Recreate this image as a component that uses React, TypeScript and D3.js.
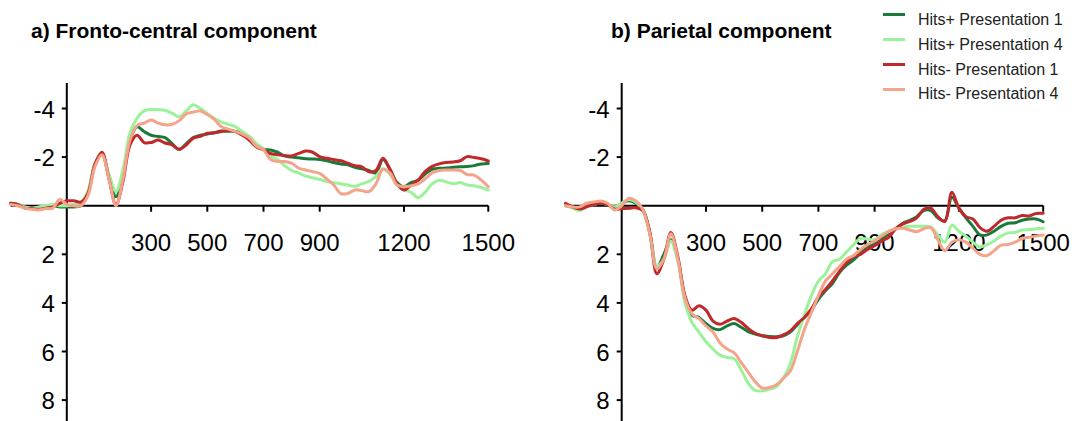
import React from "react";
import * as d3 from "d3";

// Sampling grid (ms) shared by every waveform, 25 ms steps
const TIMES: number[] = d3.range(-200, 1501, 25);

// Fronto-central component (µV, negative plotted upwards)
const FC_HITSP_P1 = [
  -0.1, -0.05, 0.05, 0.1, 0.1, 0.05, 0.0, 0.05,
  0.05, 0.05, 0.0, -0.5, -1.7, -2.15, -1.2, -0.37,
  -1.3, -2.7, -3.25, -3.05, -2.9, -2.85, -2.8, -2.55,
  -2.32, -2.55, -2.8, -2.9, -2.95, -3.0, -3.07, -3.06,
  -3.05, -2.95, -2.7, -2.45, -2.33, -2.29, -2.2, -2.05,
  -2.0, -1.97, -1.93, -1.92, -1.9, -1.85, -1.78, -1.72,
  -1.68, -1.58, -1.52, -1.45, -1.35, -1.9, -1.5, -0.95,
  -0.78, -0.95, -1.05, -1.3, -1.5, -1.54, -1.55, -1.58,
  -1.6, -1.61, -1.65, -1.72, -1.74,
];
const FC_HITSP_P4 = [
  -0.1, -0.05, 0.05, 0.1, 0.05, 0.0, -0.05, 0.0,
  0.0, -0.05, -0.15, -0.6, -1.7, -2.1, -1.3, -0.58,
  -1.5, -3.0, -3.6, -3.9, -3.96, -3.95, -3.93, -3.8,
  -3.66, -3.9, -4.15, -4.0, -3.8, -3.6, -3.45, -3.35,
  -3.25, -3.05, -2.85, -2.55, -2.35, -2.05, -1.9, -1.65,
  -1.45, -1.35, -1.22, -1.15, -1.08, -1.0, -0.95, -0.9,
  -0.85, -0.8, -0.9, -1.0, -1.2, -1.52, -1.3, -0.85,
  -0.65, -0.55, -0.33, -0.55, -0.9, -1.05, -0.98, -0.9,
  -0.95, -0.85, -0.82, -0.75, -0.65,
];
const FC_HITSM_P1 = [
  -0.1, -0.05, 0.1, 0.12, 0.15, 0.1, 0.05, -0.1,
  -0.2, -0.2, -0.15, -0.5, -1.7, -2.2, -1.1, -0.03,
  -1.0, -2.5, -2.9, -2.6, -2.6, -2.7, -2.58, -2.5,
  -2.32, -2.5, -2.78, -2.85, -2.98, -3.0, -3.05, -3.1,
  -3.05, -2.9, -2.7, -2.42, -2.3, -2.15, -2.1, -2.06,
  -2.05, -2.15, -2.25, -2.2, -2.02, -1.95, -1.9, -1.85,
  -1.75, -1.65, -1.6, -1.4, -1.45, -1.95, -1.5, -0.9,
  -0.65, -0.85, -1.05, -1.4, -1.62, -1.72, -1.78, -1.8,
  -1.85, -2.02, -1.98, -1.93, -1.84,
];
const FC_HITSM_P4 = [
  -0.05, 0.0, 0.1, 0.15, 0.18, 0.12, 0.1, -0.27,
  -0.05, 0.0, 0.0, -0.4, -1.6, -2.1, -1.1, 0.0,
  -1.1, -2.7, -3.3, -3.4, -3.53, -3.4, -3.33, -3.35,
  -3.5, -3.78, -3.85, -3.9, -3.75, -3.55, -3.25, -3.15,
  -3.05, -2.95, -2.78, -2.45, -2.3, -1.9, -1.82, -1.82,
  -1.75, -1.55, -1.47, -1.4, -1.33, -1.1, -0.85, -0.5,
  -0.5, -0.65, -0.62, -0.58, -0.9, -1.5, -1.35, -0.85,
  -0.78, -0.82, -0.9, -1.1, -1.35, -1.45, -1.47, -1.47,
  -1.45, -1.28, -1.26, -1.05, -0.78,
];

// Parietal component (µV, positive plotted downwards)
const PA_HITSP_P1 = [
  0.0, 0.05, 0.1, 0.0, -0.05, -0.1, -0.05, 0.05,
  -0.1, -0.2, -0.1, 0.15, 1.1, 2.55, 2.0, 1.4,
  2.2, 3.8, 4.5, 4.6, 4.85, 5.05, 5.1, 4.95,
  4.85, 5.0, 5.18, 5.28, 5.35, 5.38, 5.39, 5.35,
  5.2, 4.9, 4.6, 4.3, 3.85, 3.5, 3.2, 2.75,
  2.45, 2.23, 1.95, 1.7, 1.55, 1.35, 1.15, 0.95,
  0.73, 0.6, 0.45, 0.2, 0.2, 0.5, 0.62, -0.35,
  0.1, 0.5, 0.85, 1.2, 1.2, 1.05, 0.85, 0.72,
  0.7, 0.6, 0.55, 0.55, 0.66,
];
const PA_HITSP_P4 = [
  0.0, 0.1, 0.2, 0.05, -0.05, -0.1, -0.05, 0.05,
  -0.1, -0.25, -0.15, 0.2, 1.2, 2.5, 2.2, 1.45,
  2.3, 4.0, 4.8, 5.2, 5.6, 5.9, 6.15, 6.25,
  6.3, 6.75, 7.3, 7.6, 7.62, 7.55, 7.45, 7.1,
  6.5, 5.4, 4.5, 3.7, 3.1, 2.8, 2.3, 2.2,
  1.9, 1.6, 1.35, 1.38, 1.4, 1.2, 1.05, 0.95,
  0.88, 0.85, 0.85, 0.85, 0.88, 1.2, 1.5, 0.8,
  1.05, 1.25, 1.5, 1.7, 1.6, 1.45, 1.25, 1.12,
  1.1, 1.0, 0.98, 0.95, 0.93,
];
const PA_HITSM_P1 = [
  -0.1, 0.05, 0.14, 0.05, -0.05, -0.1, -0.05, 0.14,
  0.12, 0.11, 0.08, 0.2, 1.1, 2.8, 2.2, 1.1,
  2.1, 3.7, 4.3, 4.12, 4.3, 4.75, 4.88, 4.75,
  4.64, 4.8, 5.05, 5.25, 5.35, 5.42, 5.43, 5.32,
  5.15, 4.85, 4.6, 4.25, 3.75, 3.45, 3.1, 2.7,
  2.35, 2.1, 2.0, 1.8, 1.65, 1.45, 1.3, 0.95,
  0.75, 0.65, 0.5, 0.15, 0.1, 0.45, 0.65, -0.55,
  0.1, 0.45, 0.55, 0.9, 1.05, 0.85, 0.6, 0.5,
  0.5, 0.4, 0.42, 0.32, 0.31,
];
const PA_HITSM_P4 = [
  0.0, 0.05, 0.05, -0.1, -0.15, -0.19, -0.1, 0.18,
  0.0, -0.3, -0.2, 0.15, 1.15, 2.6, 2.2, 1.15,
  2.2, 3.8, 4.45, 4.65, 4.95, 5.2, 5.65, 5.9,
  6.05, 6.45, 6.85, 7.24, 7.5, 7.48, 7.38, 7.1,
  6.8, 6.0, 5.1, 4.4, 3.7, 3.1, 2.8, 2.5,
  2.2, 2.05, 1.8, 1.6, 1.45, 1.25, 1.07, 0.95,
  0.93, 1.0, 1.07, 0.95, 0.9, 1.4, 1.85, 1.5,
  1.4, 1.5, 1.75, 2.0, 2.05, 1.85, 1.62, 1.6,
  1.5, 1.35, 1.3, 1.25, 1.21,
];

const CONDITIONS = [
  "Hits+ Presentation 1",
  "Hits+ Presentation 4",
  "Hits- Presentation 1",
  "Hits- Presentation 4",
];
const COLORS = ["#1a7a3a", "#9bf29b", "#c0282b", "#f4a48a"];

const X_TICKS = [300, 500, 700, 900, 1200, 1500];
const Y_TICKS = [-4, -2, 2, 4, 6, 8];

const PANELS = [
  {
    title: "a) Fronto-central component",
    titleX: 31,
    range: [10.6, 488.3],
    series: [FC_HITSP_P1, FC_HITSP_P4, FC_HITSM_P1, FC_HITSM_P4],
  },
  {
    title: "b) Parietal component",
    titleX: 611,
    range: [565.5, 1043.2],
    series: [PA_HITSP_P1, PA_HITSP_P4, PA_HITSM_P1, PA_HITSM_P4],
  },
];

const W = 1077;
const H = 421;
const FONT = "'Liberation Sans', Arial, Helvetica, sans-serif";

const y = d3.scaleLinear().domain([-5, 9]).range([84.2, 424.4]);

function Panel({ panel }: { panel: (typeof PANELS)[number] }) {
  const x = d3.scaleLinear().domain([-200, 1500]).range(panel.range);
  const line = d3
    .line<number>()
    .x((_, i) => x(TIMES[i]))
    .y((v) => y(v))
    .curve(d3.curveCatmullRom.alpha(0.5));
  const x0 = x(0);
  const y0 = y(0);
  return (
    <g>
      <text
        x={panel.titleX}
        y={38}
        fontFamily={FONT}
        fontWeight="bold"
        fontSize={21}
        fill="#000"
      >
        {panel.title}
      </text>
      {/* axes */}
      <line x1={x(-200)} x2={x(1500)} y1={y0} y2={y0} stroke="#000" strokeWidth={2} />
      <line x1={x0} x2={x0} y1={83} y2={H} stroke="#000" strokeWidth={2} />
      {X_TICKS.map((t) => (
        <g key={t}>
          <line x1={x(t)} x2={x(t)} y1={y0} y2={y0 + 6} stroke="#000" strokeWidth={2} />
          <text
            x={x(t)}
            y={251}
            textAnchor="middle"
            fontFamily={FONT}
            fontSize={24}
            fill="#000"
          >
            {t}
          </text>
        </g>
      ))}
      {Y_TICKS.map((v) => (
        <g key={v}>
          <line x1={x0 - 5} x2={x0} y1={y(v)} y2={y(v)} stroke="#000" strokeWidth={2} />
          <text
            x={x0 - 12}
            y={y(v) + 9}
            textAnchor="end"
            fontFamily={FONT}
            fontSize={24}
            fill="#000"
          >
            {v}
          </text>
        </g>
      ))}
      {/* waveforms */}
      {panel.series.map((vals, i) => (
        <path
          key={i}
          d={line(vals) ?? ""}
          fill="none"
          stroke={COLORS[i]}
          strokeWidth={3}
          strokeLinejoin="round"
          strokeLinecap="round"
        />
      ))}
    </g>
  );
}

export default function App() {
  return (
    <svg
      width={W}
      height={H}
      viewBox={`0 0 ${W} ${H}`}
      style={{ position: "absolute", left: 0, top: 0, background: "#fff", display: "block" }}
    >
      <rect width={W} height={H} fill="#fff" />
      {PANELS.map((p) => (
        <Panel key={p.title} panel={p} />
      ))}
      {/* legend */}
      {CONDITIONS.map((c, i) => (
        <g key={c}>
          <line
            x1={883}
            x2={905}
            y1={14.5 + i * 25}
            y2={14.5 + i * 25}
            stroke={COLORS[i]}
            strokeWidth={3}
          />
          <text x={918} y={25 + i * 24.8} fontFamily={FONT} fontSize={16} fill="#222">
            {c}
          </text>
        </g>
      ))}
    </svg>
  );
}
